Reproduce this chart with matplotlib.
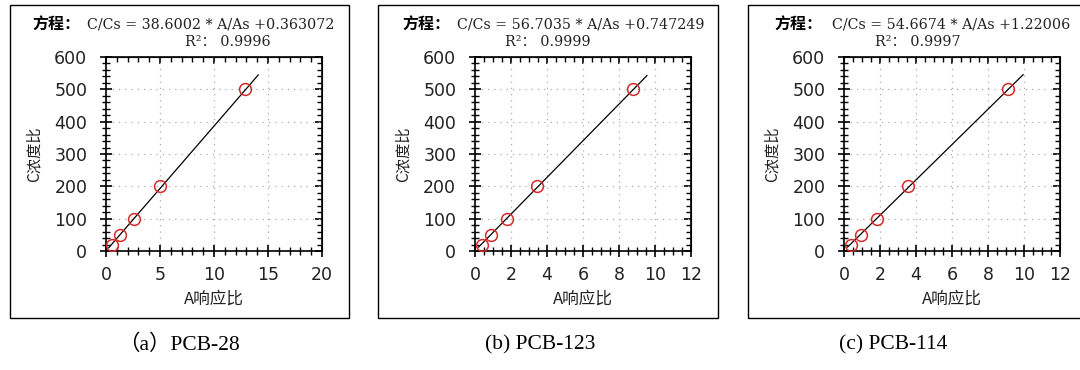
import matplotlib
matplotlib.use("Agg")
import matplotlib.pyplot as plt
import numpy as np
from matplotlib.patches import Rectangle
from matplotlib.ticker import MultipleLocator

# ---------------- data ----------------
panel_labels = ["（a）PCB-28", "(b) PCB-123", "(c) PCB-114"]
slopes = [38.6002, 56.7035, 54.6674]
intercepts = [0.363072, 0.747249, 1.22006]
r2_values = ["0.9996", "0.9999", "0.9997"]
conc_ratio = [20, 50, 100, 200, 500]
resp_a = [0.55, 1.30, 2.55, 5.00, 12.90]
resp_b = [0.41, 0.87, 1.77, 3.46, 8.80]
resp_c = [0.39, 0.97, 1.86, 3.53, 9.10]
line_x_start = [0.25, 0.2, 0.2]
line_x_end = [14.1, 9.55, 9.95]
x_max = [20, 12, 12]
x_major = [5, 2, 2]
x_minor = [1, 0.5, 0.5]
y_ticks = [0, 100, 200, 300, 400, 500, 600]
xlabel = "A响应比"
ylabel = "C浓度比"

responses = [resp_a, resp_b, resp_c]

# ---------------- layout (pixels) ----------------
W, H = 1080, 370
fig = plt.figure(figsize=(W / 100, H / 100), dpi=100)

ax_left = [106, 475, 844]
ax_width = 216
ax_top, ax_bottom = 57, 251
frame_left = [10, 378, 748]
frame_right = [349, 718, 1090]
frame_top, frame_bottom = 5, 318
title_fangcheng_x = [32, 402, 774]
eq_x = [87, 457, 832]
r2_center_x = [228, 548, 918]
caption_x = [179, 540, 893]

def fx(px):
    return px / W

def fy(py):
    return 1 - py / H

for i in range(3):
    # frame
    fig.patches.append(Rectangle((fx(frame_left[i]), fy(frame_bottom)),
                                 fx(frame_right[i] - frame_left[i]),
                                 (frame_bottom - frame_top) / H,
                                 transform=fig.transFigure, fill=False,
                                 edgecolor="black", linewidth=1.0, zorder=0))

    ax = fig.add_axes([fx(ax_left[i]), fy(ax_bottom), fx(ax_width),
                       (ax_bottom - ax_top) / H])
    ax.set_xlim(0, x_max[i])
    ax.set_ylim(0, 600)
    ax.xaxis.set_major_locator(MultipleLocator(x_major[i]))
    ax.xaxis.set_minor_locator(MultipleLocator(x_minor[i]))
    ax.set_yticks(y_ticks)
    ax.yaxis.set_minor_locator(MultipleLocator(20))
    ax.tick_params(which="major", direction="inout", length=9, width=1.2,
                   labelsize=12.5, labelcolor="#222222")
    ax.tick_params(which="minor", direction="inout", length=5.5, width=1.0)
    ax.tick_params(axis="x", which="major", pad=6)
    ax.tick_params(axis="y", which="major", pad=9)
    for lab in ax.get_xticklabels() + ax.get_yticklabels():
        lab.set_fontfamily("DejaVu Sans")
    for sp in ax.spines.values():
        sp.set_linewidth(1.2)

    # top and right inward ticks
    sx = ax.secondary_xaxis("top")
    sx.xaxis.set_major_locator(MultipleLocator(x_major[i]))
    sx.xaxis.set_minor_locator(MultipleLocator(x_minor[i]))
    sx.tick_params(which="major", direction="in", length=5, width=1.2, labeltop=False)
    sx.tick_params(which="minor", direction="in", length=3.5, width=1.0)
    sy = ax.secondary_yaxis("right")
    sy.set_yticks(y_ticks)
    sy.yaxis.set_minor_locator(MultipleLocator(20))
    sy.tick_params(which="major", direction="in", length=5, width=1.2, labelright=False)
    sy.tick_params(which="minor", direction="in", length=3.5, width=1.0)

    ax.grid(True, which="major", linestyle=(0, (1, 4)), color="#aaaaaa",
            linewidth=0.9)

    xs = np.array([line_x_start[i], line_x_end[i]])
    ax.plot(xs, slopes[i] * xs + intercepts[i], color="black", linewidth=0.9,
            zorder=3)
    ax.plot(responses[i], conc_ratio, linestyle="none", marker="o",
            markersize=8.5, markerfacecolor="none", markeredgecolor="#d42a2a",
            markeredgewidth=1.1, zorder=4)

    ax.set_xlabel(xlabel, fontfamily="Noto Sans CJK SC", fontsize=12,
                  labelpad=5, color="#222222")
    ax.set_ylabel(ylabel, fontfamily="Noto Sans CJK SC", fontsize=11,
                  labelpad=8, color="#222222")

    # equation text
    fig.text(fx(title_fangcheng_x[i]), fy(25), "方程：",
             fontfamily="Noto Sans CJK SC", fontweight="bold", fontsize=11.5,
             va="center", ha="left")
    fig.text(fx(eq_x[i]), fy(25),
             f"C/Cs = {slopes[i]:g} * A/As +{intercepts[i]:g}",
             fontfamily="DejaVu Serif", fontsize=10.3, va="center", ha="left",
             color="#222222")
    fig.text(fx(r2_center_x[i]), fy(42), f"R²： {r2_values[i]}",
             fontfamily=["DejaVu Serif", "Noto Sans CJK SC"], fontsize=10.3,
             va="center", ha="center", color="#222222")

    # caption
    fig.text(fx(caption_x[i]), fy(345), panel_labels[i],
             fontfamily=["Liberation Serif", "Noto Sans CJK SC"], fontsize=15.5,
             va="center", ha="center")

fig.savefig("out.png", dpi=100)
